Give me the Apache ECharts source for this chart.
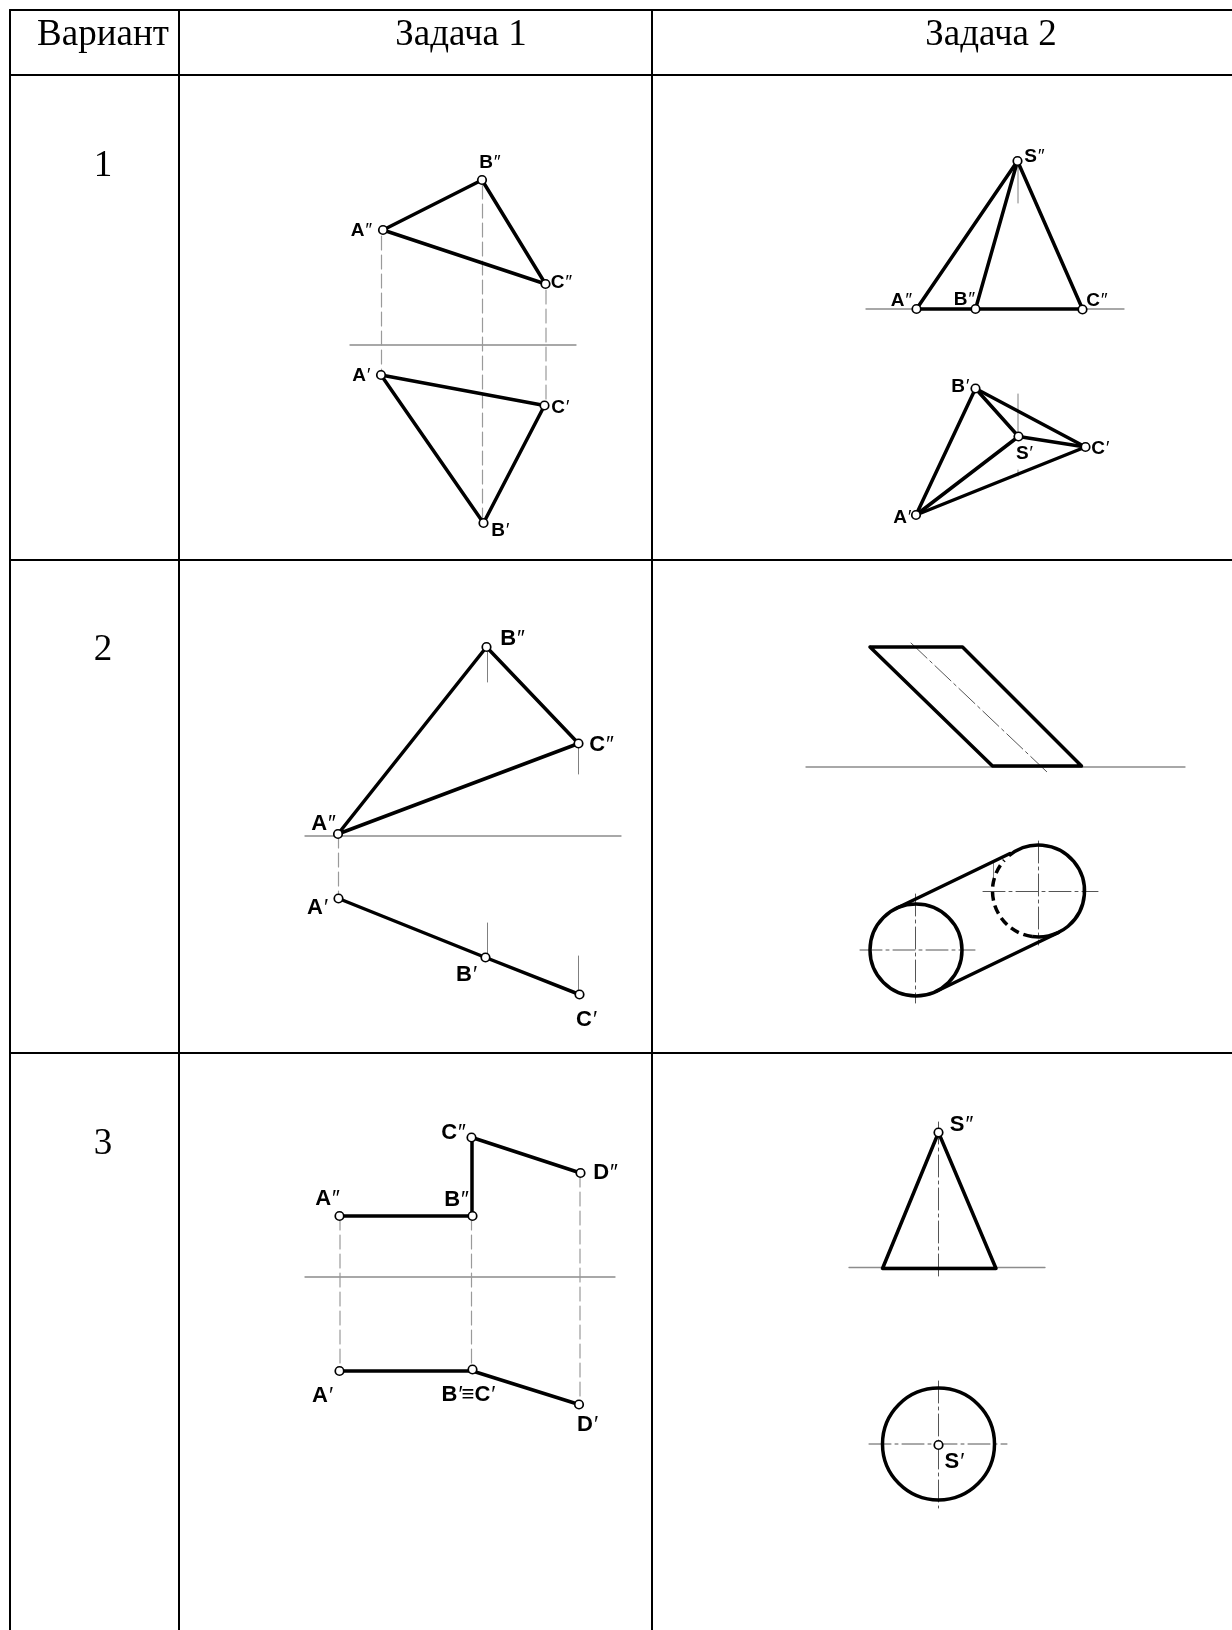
<!DOCTYPE html>
<html><head><meta charset="utf-8">
<style>html,body{margin:0;padding:0;background:#fff}#c{width:1232px;height:1630px}</style>
<script src="https://cdn.jsdelivr.net/npm/echarts@6/dist/echarts.min.js"></script>
</head><body><div id="c"></div>
<script>
// Table
const tableRules = [
  [[10,10],[1232,10]], [[10,75],[1232,75]], [[10,560],[1232,560]], [[10,1053],[1232,1053]],
  [[10,10],[10,1630]], [[179,10],[179,1630]], [[652,10],[652,1630]]
];
const headerTexts = [[103,35,'Вариант'],[461,35,'Задача 1'],[991,35,'Задача 2']];
const variantTexts = [[103,166,'1'],[103,650,'2'],[103,1144,'3']];

// Thick object lines
const objectLines = [
  // variant 1, task 1
  [[383,230],[482,180],[545.5,284],[383,230]],
  [[381,375],[544.5,405.5],[483.5,523],[381,375]],
  // variant 1, task 2
  [[916.5,309],[1017.5,161],[1082.5,309],[916.5,309]],
  [[975.5,309],[1017.5,161]],
  [[975.5,388.5],[1085.5,447],[916,515],[975.5,388.5]],
  [[975.5,388.5],[1018.5,436.5],[1085.5,447]],
  [[916,515],[1018.5,436.5]],
  // variant 2, task 1
  [[338,834],[486.5,647],[578.5,743.5],[338,834]],
  [[338.5,898.5],[485.5,957.5],[579.5,994.5]],
  // variant 2, task 2
  [[870,647],[962.5,647],[1081.5,766],[992.5,766],[870,647]],
  [[896,908.5],[1010,853.5]],
  [[936,991.5],[1058.5,932.5]],
  // variant 3, task 1
  [[339.5,1216],[472,1216],[472,1137.5],[580.5,1173]],
  [[339.5,1371],[472.5,1371],[579,1404.5]],
  // variant 3, task 2
  [[938.5,1132.5],[882.5,1268.5],[996,1268.5],[938.5,1132.5]]
];

// Ground lines and thin extension lines
const groundLines = [
  [[350,345],[576,345]],
  [[866,309],[1124,309]],
  [[305,836],[621,836]],
  [[806,767],[1185,767]],
  [[305,1277],[615,1277]],
  [[849,1267.5],[1045,1267.5]]
];
const thinLines = [
  [[1018,161],[1018,203]],
  [[1018,394],[1018,436]],
  [[1018,470],[1018,476]],
  [[487.5,647],[487.5,682]],
  [[578.5,743],[578.5,774]],
  [[487.5,923],[487.5,957]],
  [[578.5,956],[578.5,995]],
  [[993.5,863],[993.5,883]]
];
const projectionLines = [
  [[381.5,236],[381.5,371]],
  [[482.5,185],[482.5,520]],
  [[546,290],[546,402]],
  [[338.5,834],[338.5,898]],
  [[340,1216],[340,1371]],
  [[471.5,1216],[471.5,1369]],
  [[580,1173],[580,1404]]
];
const centerLines = [
  [[911,643],[1047,772]],
  [[860,950],[975,950]],
  [[915.5,894],[915.5,1003]],
  [[983,891.5],[1098,891.5]],
  [[1038.5,841],[1038.5,945]],
  [[938.5,1122],[938.5,1276]],
  [[869,1444],[1007,1444]],
  [[938.5,1381],[938.5,1508]]
];

// Circles and arcs: centre x, centre y, radius, start degree, end degree
const solidArcs = [
  [916,950,46,0,360],
  [1038.5,891,46,-130,65],
  [1038.5,891,46,65,98],
  [938.5,1444,56,0,360]
];
const dashedArcs = [
  [1038.5,891,46,98,222]
];

// Vertices
const vertexPoints = [
  [383,230],[482,180],[545.5,284],[381,375],[544.5,405.5],[483.5,523],
  [1017.5,161],[916.5,309],[975.5,309],[1082.5,309.5],[975.5,388.5],[1018.5,436.5],[1085.5,447],[916,515],
  [338,834],[486.5,647],[578.5,743.5],[338.5,898.5],[485.5,957.5],[579.5,994.5],
  [339.5,1216],[472.5,1216],[471.5,1137.5],[580.5,1173],[339.5,1371],[472.5,1369.5],[579,1404.5],
  [938.5,1132.5],[938.5,1445]
];

// Point labels
const smallLabels = [
  [489.5,161,'B″'],[361,229,'A″'],[561,281,'C″'],[361,374,'A′'],[560,406,'C′'],[500,529,'B′'],
  [1034,155,'S″'],[901,299,'A″'],[964,298,'B″'],[1096.5,299,'C″'],[960,385,'B′'],[1024,452,'S′'],[1100,447,'C′'],[902,516,'A′']
];
const largeLabels = [
  [323,822,'A″'],[512,637,'B″'],[601,743,'C″'],[317,906,'A′'],[466,973,'B′'],[586,1018,'C′'],
  [327,1197,'A″'],[456,1198,'B″'],[453,1131,'C″'],[605,1171,'D″'],[322,1394,'A′'],[468,1393,'B′≡C′'],[587,1423,'D′'],
  [961,1123,'S″'],[954,1460,'S′']
];

const toRich = s => s.replace(/[^′″]+/g, m => '{b|' + m + '}').replace(/[′″]+/g, m => '{p|' + m + '}');
const poly = (pts, color, width, type, z) => ({
  type:'line', data:pts, showSymbol:false, silent:true, animation:false, z:z, clip:false,
  lineStyle:{color, width, type, cap:'round', join:'round'}
});
const labelSeries = (items, size) => ({
  type:'scatter', data:items, symbolSize:1, silent:true, animation:false, z:8,
  itemStyle:{color:'rgba(0,0,0,0)', opacity:1},
  label:{show:true, position:'inside', offset:[0,2], textBorderWidth:0, formatter:p => toRich(p.data[2]),
    rich:{
      b:{fontFamily:'Liberation Sans', fontWeight:'bold', fontSize:size, color:'#000', textBorderWidth:0, lineHeight:size+2},
      p:{fontFamily:'Liberation Sans', fontStyle:'italic', fontSize:size, color:'#000', textBorderWidth:0, lineHeight:size+2}
    }}
});
const serifSeries = (items, size) => ({
  type:'scatter', data:items, symbolSize:1, silent:true, animation:false, z:8,
  itemStyle:{color:'rgba(0,0,0,0)', opacity:1},
  label:{show:true, position:'inside', formatter:p => p.data[2], color:'#000', textBorderWidth:0,
    fontFamily:'Liberation Serif', fontSize:size}
});
const arcSeries = (items, dash) => ({
  type:'custom', data:items, silent:true, animation:false, z:5,
  renderItem:(params, api) => {
    const c = api.coord([api.value(0), api.value(1)]);
    const r = api.size([api.value(2), 0])[0];
    return {type:'arc',
      shape:{cx:c[0], cy:c[1], r, startAngle:api.value(3)*Math.PI/180, endAngle:api.value(4)*Math.PI/180, clockwise:true},
      style:{fill:null, stroke:'#000', lineWidth:3.5, lineDash:dash}};
  }
});

const series = [
  ...tableRules.map(p => poly(p,'#000',2,'solid',1)),
  ...groundLines.map(p => poly(p,'#8c8c8c',1.3,'solid',2)),
  ...thinLines.map(p => poly(p,'#808080',1,'solid',2)),
  ...projectionLines.map(p => poly(p,'#9a9a9a',1.2,[14,5],2)),
  ...centerLines.map(p => poly(p,'#555',1,[22,4,3,4],2)),
  ...objectLines.map(p => poly(p,'#000',3.5,'solid',4)),
  arcSeries(solidArcs,null),
  arcSeries(dashedArcs,[9,5]),
  {type:'scatter', data:vertexPoints, symbol:'circle', symbolSize:8.5, silent:true, animation:false, z:6,
    itemStyle:{color:'#fff', borderColor:'#000', borderWidth:1.7, opacity:1}},
  labelSeries(smallLabels,19),
  labelSeries(largeLabels,22),
  serifSeries(headerTexts,37),
  serifSeries(variantTexts,37)
];

const chart = echarts.init(document.getElementById('c'), null, {renderer:'canvas'});
chart.setOption({
  animation:false,
  backgroundColor:'#fff',
  grid:{left:0,right:0,top:0,bottom:0},
  xAxis:{type:'value',min:0,max:1232,show:false},
  yAxis:{type:'value',min:0,max:1630,inverse:true,show:false},
  tooltip:{show:false},
  series
});
</script></body></html>
